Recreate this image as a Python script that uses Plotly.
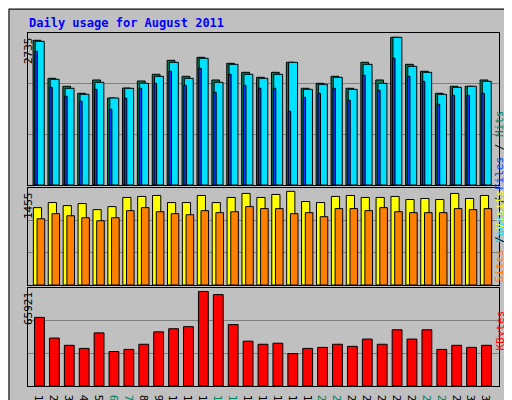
import plotly.graph_objects as go

days = list(range(1, 32))
weekend = {6, 7, 13, 14, 20, 21, 27, 28}
hits = [2680,1976,1828,1698,1945,1611,1796,1926,2050,2309,2013,2365,1945,2254,2087,1995,
        2087,2273,1791,1883,2013,1791,2273,1945,2735,2235,2106,1698,1828,1828,1945]
files = [2661,1958,1791,1680,1902,1611,1791,1883,2013,2272,1976,2347,1902,2235,2050,1976,
         2050,2272,1772,1865,1995,1772,2235,1883,2735,2198,2087,1680,1809,1828,1920]
pages = [2476,1809,1643,1550,1772,1402,1606,1791,1883,2106,1846,2161,1717,2050,1846,1791,
         1791,1365,1624,1698,1791,1569,2032,1754,2347,2013,1920,1495,1661,1661,1698]
sites = [1202,1281,1234,1265,1171,1218,1360,1376,1391,1281,1281,1391,1281,1360,1423,1360,
         1407,1455,1297,1281,1376,1391,1360,1360,1376,1328,1344,1328,1423,1344,1391]
visits = [1029,1108,1076,1045,998,1045,1155,1202,1139,1108,1092,1155,1124,1139,1218,1187,
          1187,1108,1124,1061,1187,1187,1155,1202,1139,1124,1124,1124,1187,1171,1187]
kbytes = [47879,33443,28391,26225,37052,24060,25504,29113,37774,39940,41383,65921,63759,42827,31278,29113,
          29834,22616,26225,26947,29113,27669,32722,29113,39218,32722,39218,25504,28391,26947,28391]
tick_text = [f'<span style="color:#00805C">{d}</span>' if d in weekend else str(d) for d in days]

mono = "DejaVu Sans Mono"
line = dict(color="black", width=1)
fig = go.Figure()

def bar(y, color, off, w, ax):
    fig.add_trace(go.Bar(x=days, y=y, offset=off, width=w, marker=dict(color=color, line=line),
                         xaxis=ax[0], yaxis=ax[1], showlegend=False))

bar(hits, "#00805C", -0.52, 0.52, ("x", "y"))
bar(files, "#00E0FF", -0.37, 0.6, ("x", "y"))
bar(pages, "#0040FF", -0.4, 0.17, ("x", "y"))
bar(sites, "#FFFF00", -0.5, 0.55, ("x2", "y2"))
bar(visits, "#FF8000", -0.25, 0.51, ("x2", "y2"))
bar(kbytes, "#FF0000", -0.42, 0.66, ("x3", "y3"))

xr = [0.14, 31.75]
common_x = dict(range=xr, showgrid=False, zeroline=False, showline=True, linecolor="black",
                linewidth=1, mirror=True, domain=[20/512, 491/512], fixedrange=True)
fig.update_layout(
    width=512, height=400, margin=dict(l=0, r=0, t=0, b=0),
    paper_bgcolor="#C0C0C0", plot_bgcolor="#C0C0C0", barmode="overlay",
    font=dict(family=mono, size=11, color="black"),
    xaxis=dict(**common_x, anchor="y", showticklabels=False, ticks=""),
    xaxis2=dict(**common_x, anchor="y2", showticklabels=False, ticks=""),
    xaxis3=dict(**common_x, anchor="y3", tickvals=days, ticktext=tick_text, ticks="",
                tickfont=dict(family=mono, size=11)),
)
def yax(dom, top):
    return dict(domain=dom, range=[0, top], tickvals=[top/3, 2*top/3], showticklabels=False,
                gridcolor="#808080", gridwidth=1, zeroline=False, showline=True,
                linecolor="black", linewidth=1, mirror=True, ticks="", fixedrange=True)
fig.update_layout(yaxis=yax([1-177/400, 1-25/400], 2815),
                  yaxis2=yax([1-277/400, 1-180/400], 1507),
                  yaxis3=yax([1-378/400, 1-280/400], 68354))

ann = [
    dict(text="<b>Daily usage for August 2011</b>", x=19/512, y=1-15/400, xanchor="left",
         yanchor="middle", font=dict(color="#0000FF", size=12, family=mono)),
    dict(text="2735", x=12/512, y=1-27/400, textangle=-90, yanchor="top"),
    dict(text="1455", x=12/512, y=1-182/400, textangle=-90, yanchor="top"),
    dict(text="65921", x=12/512, y=1-282/400, textangle=-90, yanchor="top"),
    dict(text='<span style="color:#00E0FF">Pages</span> / <span style="color:#0040FF">Files</span> / <span style="color:#00805C">Hits</span>',
         x=500/512, y=1-100/400, textangle=-90),
    dict(text='<span style="color:#FF8000">Sites</span> / <span style="color:#FFFF00">Visits</span>',
         x=500/512, y=1-228/400, textangle=-90),
    dict(text='<span style="color:#FF0000">KBytes</span>', x=500/512, y=1-345/400, textangle=-90),
]
for a in ann:
    a.setdefault("font", dict(family=mono, size=11, color="black"))
    fig.add_annotation(xref="paper", yref="paper", showarrow=False, **a)

fig.add_shape(type="rect", xref="paper", yref="paper", x0=0.002, y0=0.003, x1=0.998, y1=0.997,
              line=dict(color="black", width=1))
fig.add_shape(type="line", xref="paper", yref="paper", x0=0.992, y0=0.01, x1=0.992, y1=0.99,
              line=dict(color="#808080", width=3))
fig.add_shape(type="line", xref="paper", yref="paper", x0=0.01, y0=0.012, x1=0.992, y1=0.012,
              line=dict(color="#808080", width=3))

fig.write_html("out.html")
